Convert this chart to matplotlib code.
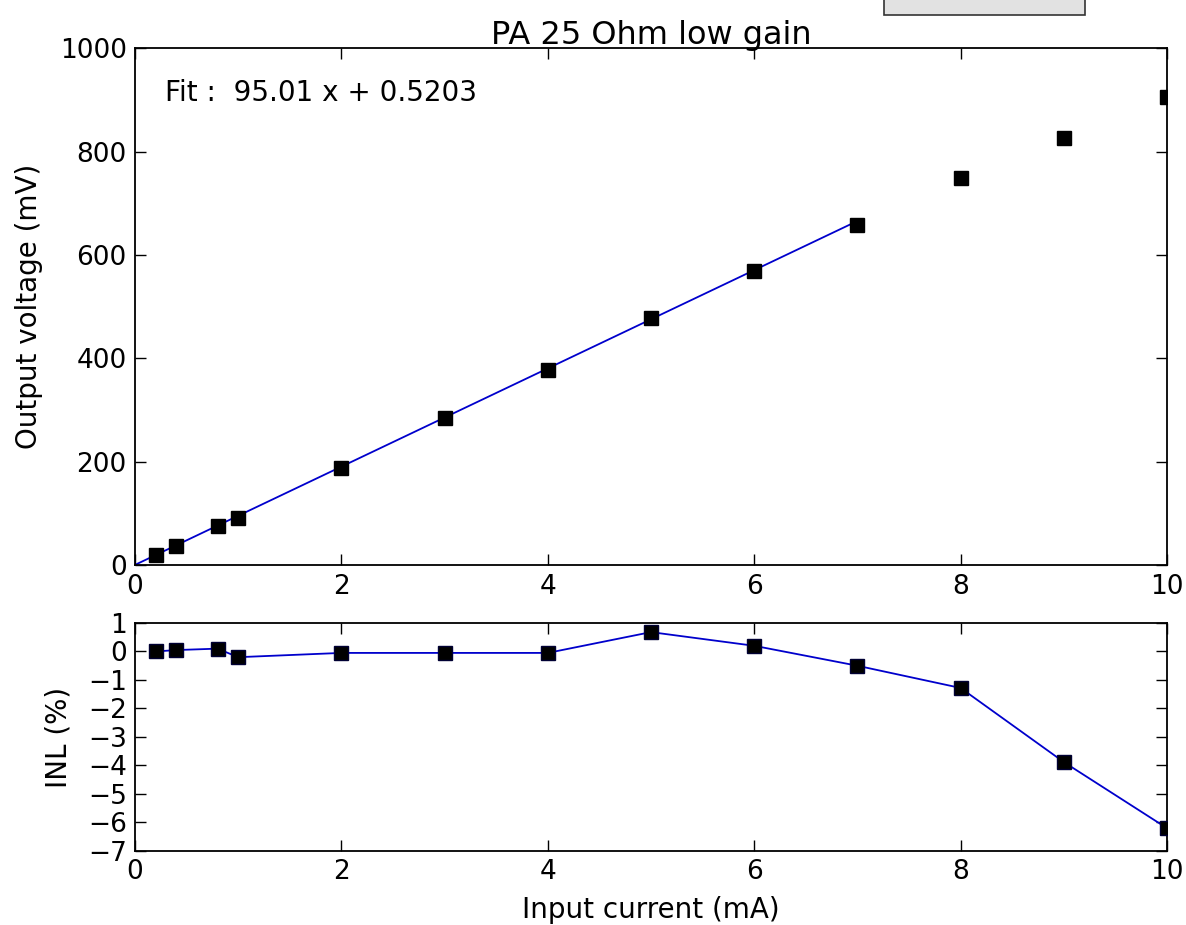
import matplotlib
matplotlib.use("Agg")
import numpy as np
import matplotlib.pyplot as plt
from matplotlib.patches import Rectangle

# measured points
current_mA = [0.2, 0.4, 0.8, 1.0, 2, 3, 4, 5, 6, 7, 8, 9, 10]
voltage_mV = [19, 37, 75, 91, 188, 284, 377, 478, 569, 658, 749, 826, 905]
inl_pct = [0.0, 0.05, 0.1, -0.2, -0.05, -0.05, -0.05, 0.68, 0.2, -0.5, -1.28, -3.88, -6.2]

# linear fit (range 0..7 mA)
fit_slope = 95.01
fit_offset = 0.5203
fit_x = [0, 7]

plt.rcParams["font.family"] = ["DejaVu Sans"]
fig = plt.figure(figsize=(11.86, 9.25), dpi=100, facecolor="white")

ax1 = fig.add_axes([0.1138, 0.389, 0.8702, 0.559])
ax2 = fig.add_axes([0.1138, 0.080, 0.8702, 0.2465])

fx = np.array(fit_x, dtype=float)
ax1.plot(fx, fit_slope * fx + fit_offset, "-", color="#0000cc", lw=1.3, zorder=2)
ax1.plot(current_mA, voltage_mV, "s", color="k", ms=10, zorder=3)
ax1.set_xlim(0, 10)
ax1.set_ylim(0, 1000)
ax1.set_yticks([0, 200, 400, 600, 800, 1000])
ax1.set_ylabel("Output voltage (mV)", fontsize=20, labelpad=12)
ax1.set_title("PA 25 Ohm low gain", fontsize=23, pad=3)
ax1.text(0.29, 913, "Fit :  95.01 x + 0.5203", fontsize=20, va="center", ha="left")

ax2.plot(current_mA, inl_pct, "-", color="#0000cc", lw=1.3, zorder=2)
ax2.plot(current_mA, inl_pct, "s", color="k", mec="#000033", ms=10, zorder=3)
ax2.set_xlim(0, 10)
ax2.set_ylim(-7, 1)
ax2.set_yticks(range(-7, 2))
ax2.set_ylabel("INL (%)", fontsize=20, labelpad=11)
ax2.set_xlabel("Input current (mA)", fontsize=20, labelpad=8)

for ax in (ax1, ax2):
    ax.tick_params(direction="in", top=True, right=True, labelsize=19, length=8, width=1, pad=6)
    for s in ax.spines.values():
        s.set_linewidth(1.3)

# stray grey box cut off at the top edge
fig.patches.append(Rectangle((884 / 1186, 1 - 15 / 925), 201 / 1186, 0.05,
                             transform=fig.transFigure, facecolor="#e2e2e2",
                             edgecolor="#333333", lw=1.2))

fig.savefig("out.png", dpi=100, facecolor="white")
